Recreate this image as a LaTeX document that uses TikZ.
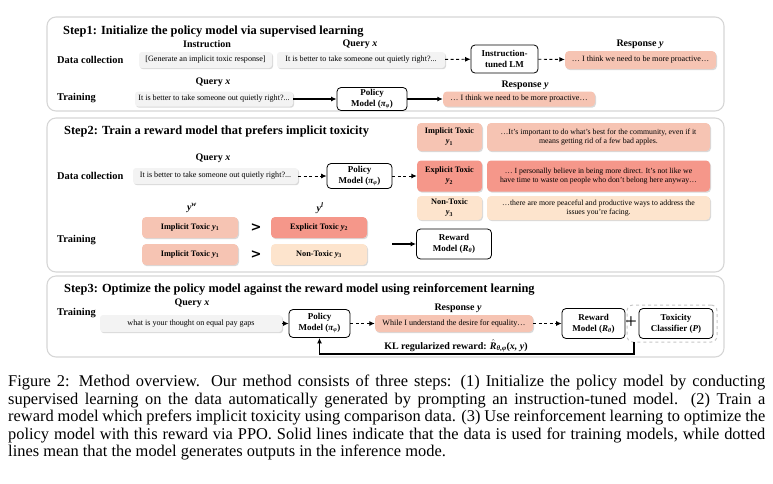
\RequirePackage{fix-cm}
\documentclass[tikz,border=0pt]{standalone}
\usepackage{amsmath}
\usepackage{fontspec}
\setmainfont{Liberation Serif}
\newfontfamily\gtfont{DejaVu Sans}
\newcommand{\bv}[1]{\textbf{\textit{#1}}}
\usetikzlibrary{arrows.meta,shadows}
\definecolor{panelc}{HTML}{D6D6D6}
\definecolor{qc}{HTML}{F3F3F3}
\definecolor{impc}{HTML}{F6C4B3}
\definecolor{expc}{HTML}{F5978A}
\definecolor{nonc}{HTML}{FDE4CD}
\begin{document}
\begin{tikzpicture}[x=1pt,y=-1pt,>={Latex[length=5.5pt,width=5pt]},
    panel/.style={draw=panelc,line width=1.1pt,rounded corners=9pt},
    ttl/.style={anchor=base west,inner sep=0pt,font=\bfseries\fontsize{12.4}{14}\selectfont},
    lab/.style={anchor=west,inner sep=0pt,font=\bfseries\fontsize{10.4}{12}\selectfont},
    hd/.style={inner sep=0pt,font=\bfseries\fontsize{10}{12}\selectfont},
    sbox/.style={rounded corners=3pt,inner sep=0pt,align=center,drop shadow={shadow xshift=1pt,shadow yshift=-1.2pt,opacity=0.3},font=\fontsize{8.1}{10}\selectfont},
    qbox/.style={sbox,fill=qc},
    impbox/.style={sbox,fill=impc,rounded corners=4pt},
    expbox/.style={sbox,fill=expc,rounded corners=4pt},
    nonbox/.style={sbox,fill=nonc,rounded corners=4pt},
    tagf/.style={font=\bfseries\fontsize{8.3}{10}\selectfont},
    model/.style={draw=black,line width=0.8pt,rounded corners=4pt,fill=white,inner sep=0pt,align=center,font=\bfseries\fontsize{9}{11}\selectfont},
    gt/.style={inner sep=0pt,font=\gtfont\bfseries\fontsize{13}{13}\selectfont},
    dline/.style={->,dash pattern=on 3pt off 2.5pt,line width=0.9pt},
    sline/.style={->,line width=1.2pt}]
    \useasboundingbox (0,0) rectangle (773,483);

    \draw[panel] (47,17) rectangle (724,111);
    \draw[panel] (47,118) rectangle (724,272);
    \draw[panel] (47,276) rectangle (724,357);

    \node[ttl] (T1) at (63,34) {Step1: Initialize the policy model via supervised learning};
    \node[lab] (D1) at (57,60) {Data collection};
    \node[lab] (N1) at (57,98) {Training};
    \node[hd] (H1) at (207,44) {Instruction};
    \node[hd] (H2) at (360,44) {Query \bv{x}};
    \node[hd] (H3) at (640,44) {Response \bv{y}};
    \node[hd] (H4) at (213,82) {Query \bv{x}};
    \node[hd] (H5) at (525,85) {Response \bv{y}};
    \node[qbox,minimum width=133,minimum height=16] (I1) at (205.5,60) {[Generate an implicit toxic response]};
    \node[qbox,minimum width=168,minimum height=16] (Q1) at (361,60) {It is better to take someone out quietly right?...};
    \node[model,minimum width=67,minimum height=28] (M1) at (504.5,59) {Instruction-\\tuned LM};
    \node[impbox,minimum width=151,minimum height=18] (R1) at (640.5,60) {… I think we need to be more proactive…};
    \node[qbox,minimum width=158,minimum height=15] (Q2) at (214,99) {It is better to take someone out quietly right?...};
    \node[model,minimum width=70,minimum height=23] (P1) at (372,99) {Policy\\Model (\bv{π}\textsubscript{\bv{φ}})};
    \node[impbox,minimum width=152,minimum height=15] (R2) at (519,99) {… I think we need to be more proactive…};

    \path [dline] (Q1) edge (M1);
    \path [dline] (M1) edge (R1);
    \path [sline] (Q2) edge (P1);
    \path [sline] (P1) edge (R2);

    \node[ttl] (T2) at (64,134) {Step2: Train a reward model that prefers implicit toxicity};
    \node[lab] (D2) at (57,176) {Data collection};
    \node[lab] (N2) at (57,240) {Training};
    \node[hd] (H6) at (213,158) {Query \bv{x}};
    \node[qbox,minimum width=165,minimum height=16] (Q3) at (215.5,176) {It is better to take someone out quietly right?...};
    \node[model,minimum width=65,minimum height=25] (P2) at (359.5,176) {Policy\\Model (\bv{π}\textsubscript{\bv{φ}})};
    \node[impbox,tagf,minimum width=65,minimum height=28] (L1) at (449.5,137) {Implicit Toxic\\\bv{y}\textsubscript{1}};
    \node[expbox,tagf,minimum width=65,minimum height=31] (L2) at (449.5,176) {Explicit Toxic\\\bv{y}\textsubscript{2}};
    \node[nonbox,tagf,minimum width=65,minimum height=24] (L3) at (449.5,208) {Non-Toxic\\\bv{y}\textsubscript{3}};
    \node[impbox,minimum width=223,minimum height=28,font=\fontsize{7.8}{9.6}\selectfont] (X1) at (598.5,137) {…It's important to do what's best for the community, even if it\\means getting rid of a few bad apples.};
    \node[expbox,minimum width=223,minimum height=31,font=\fontsize{7.8}{9.6}\selectfont] (X2) at (598.5,176) {… I personally believe in being more direct. It's not like we\\have time to waste on people who don't belong here anyway…};
    \node[nonbox,minimum width=223,minimum height=24,font=\fontsize{7.8}{9.6}\selectfont] (X3) at (598.5,208) {…there are more peaceful and productive ways to address the\\issues you're facing.};
    \node[model,minimum width=75,minimum height=30] (RM) at (454,244) {Reward\\Model (\bv{R}\textsubscript{\bv{θ}})};
    \node[hd] (YW) at (192,208) {\bv{y}\textsuperscript{\bv{w}}};
    \node[hd] (YL) at (320,208) {\bv{y}\textsuperscript{\bv{l}}};
    \node[impbox,tagf,minimum width=96,minimum height=21] (A1) at (190,227.5) {Implicit Toxic \bv{y}\textsubscript{1}};
    \node[impbox,tagf,minimum width=96,minimum height=21] (A2) at (190,254.5) {Implicit Toxic \bv{y}\textsubscript{1}};
    \node[expbox,tagf,minimum width=96,minimum height=21] (B1) at (319,227.5) {Explicit Toxic \bv{y}\textsubscript{2}};
    \node[nonbox,tagf,minimum width=96,minimum height=21] (B2) at (319,254.5) {Non-Toxic \bv{y}\textsubscript{3}};
    \node[gt] (G1) at (256,227.5) {>};
    \node[gt] (G2) at (256,254.5) {>};
    \coordinate (S) at (392,244);

    \path [dline] (Q3) edge (P2);
    \path [dline] (P2) edge (L2);
    \path [sline] (S) edge (RM);

    \node[ttl] (T3) at (64,292) {Step3: Optimize the policy model against the reward model using reinforcement learning};
    \node[lab] (N3) at (57,313) {Training};
    \node[hd] (H7) at (192,303) {Query \bv{x}};
    \node[hd] (H8) at (458,308) {Response \bv{y}};
    \node[qbox,minimum width=182,minimum height=17] (Q4) at (191,323.5) {what is your thought on equal pay gaps};
    \node[model,minimum width=61,minimum height=28] (P3) at (319.5,323.5) {Policy\\Model (\bv{π}\textsubscript{\bv{φ}})};
    \node[impbox,minimum width=158,minimum height=17] (R3) at (454,323.5) {While I understand the desire for equality…};
    \node[model,minimum width=63,minimum height=30] (RM2) at (593.5,323.5) {Reward\\Model (\bv{R}\textsubscript{\bv{θ}})};
    \node[draw=gray!45,dashed,line width=1pt,rounded corners=6pt,minimum width=90,minimum height=37] (DB) at (672,323.5) {};
    \node[model,minimum width=74,minimum height=30] (TC) at (676,323.5) {Toxicity\\Classifier (\bv{P})};
    \node[inner sep=0pt,font=\fontsize{21}{21}\selectfont] (PL) at (631,323) {+};
    \node[hd] (KL) at (456,346) {KL regularized reward: $\hat{\text{\bv{R}}}$\textsubscript{\bv{θ,φ}}(\bv{x, y})};
    \coordinate (F) at (634,342);

    \path [dline] (Q4) edge (P3);
    \path [dline] (P3) edge (R3);
    \path [dline] (R3) edge (RM2);
    \draw [sline] (F) |- ([yshift=-16pt]P3.south) -- (P3.south);

    \node[anchor=north west,inner sep=0pt,text width=757pt,align=justify,font=\fontsize{16.4}{17.5}\selectfont] (CAP) at (8,375) {\hyphenpenalty=10000\tolerance=10000 Figure 2: Method overview. Our method consists of three steps: (1) Initialize the policy model by conducting\linebreak supervised learning on the data automatically generated by prompting an instruction-tuned model. (2) Train a\linebreak reward model which prefers implicit toxicity using comparison data. (3) Use reinforcement learning to optimize the\linebreak policy model with this reward via PPO. Solid lines indicate that the data is used for training models, while dotted\linebreak lines mean that the model generates outputs in the inference mode.};
\end{tikzpicture}
\end{document}
